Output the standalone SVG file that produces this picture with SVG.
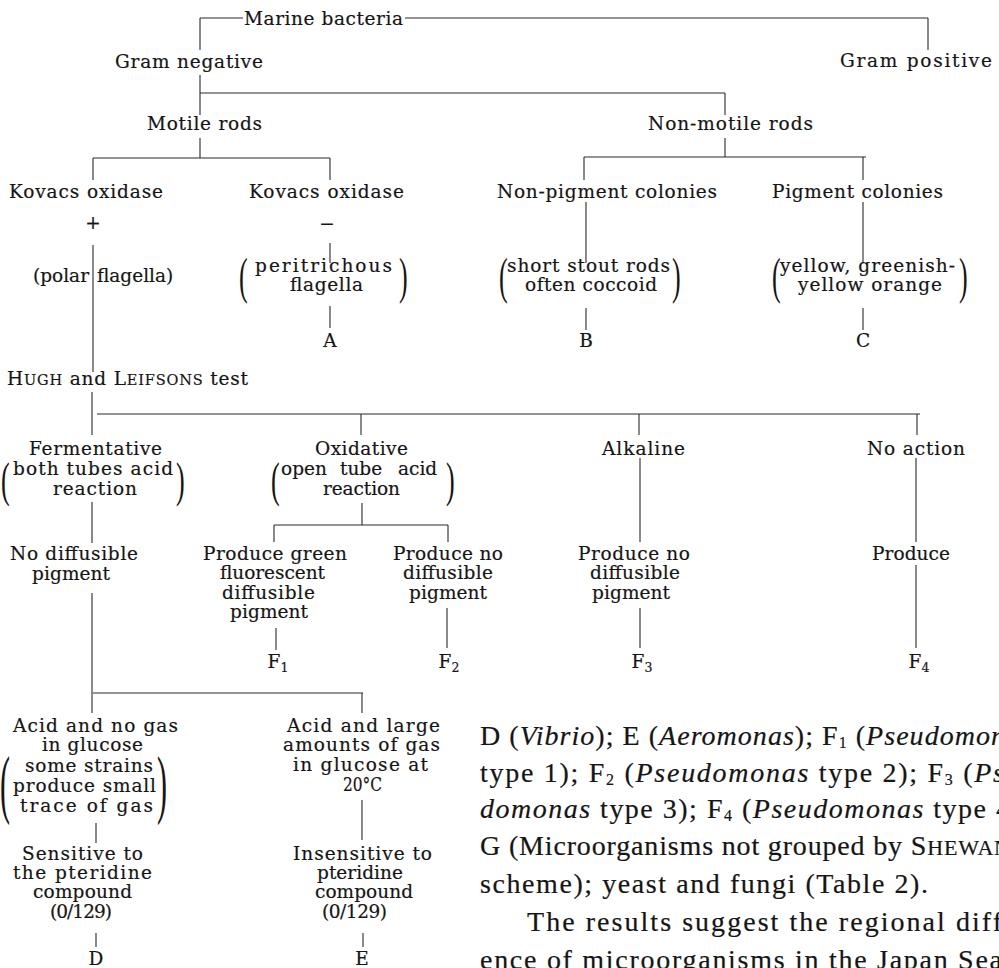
<svg xmlns="http://www.w3.org/2000/svg" width="999" height="968" viewBox="0 0 999 968">
<style>
.t{font-family:"DejaVu Serif","Liberation Serif",serif;font-size:18.5px;fill:#151515;stroke:#151515;stroke-width:0.2}
.m{text-anchor:middle}
.p{font-family:"Liberation Serif",serif;font-size:20px;fill:#151515}
.b{font-family:"Liberation Serif",serif;font-size:28px;fill:#151515;stroke:#151515;stroke-width:0.2}
.i{font-style:italic}
.c{fill:none;stroke:#2a2a2a;stroke-width:1.1}
</style>
<rect width="999" height="968" fill="#ffffff"/>
<g id="connectors" class="c">
<path d="M200 18H243M405 18H928M200 18V50M928 18V50"/>
<path d="M200 75V115M200 93H725M725 93V115"/>
<path d="M200 138V158M93 158H330M93 158V180M330 158V180"/>
<path d="M725 138V157M584 157H866M584 157V180M863 157V180"/>
<path d="M93 245V372M330 243V263M330 306V328"/>
<path d="M586 202V263M586 308V330M863 202V263M863 308V330"/>
<path d="M92 392V435M97 414H920M361 414V435M639 414V435M917 414V435"/>
<path d="M92 502V543M92 593V713M93 693H363M362 693V713"/>
<path d="M362 503V525M274 525H448M274 525V542M448 525V542"/>
<path d="M276 628V650M447 608V648M640 458V542M640 608V648M916 458V542M916 565V648"/>
<path d="M96 823V843M96 933V947M362 800V840M363 933V947"/>
</g>
<g id="marine"><text class="t" x="244" y="25" textLength="159" lengthAdjust="spacing">Marine bacteria</text></g>
<g id="gramneg"><text class="t" x="115" y="68" textLength="148" lengthAdjust="spacing">Gram negative</text></g>
<g id="grampos"><text class="t" x="840" y="67" textLength="152" lengthAdjust="spacing">Gram positive</text></g>
<g id="motile"><text class="t" x="147" y="130" textLength="115" lengthAdjust="spacing">Motile rods</text></g>
<g id="nonmotile"><text class="t" x="648" y="130" textLength="165" lengthAdjust="spacing">Non-motile rods</text></g>
<g id="kovplus"><text class="t" x="9" y="198" textLength="154" lengthAdjust="spacing">Kovacs oxidase</text><text class="t m" x="93" y="229" font-size="20">+</text></g>
<g id="kovminus"><text class="t" x="249" y="198" textLength="155" lengthAdjust="spacing">Kovacs oxidase</text><text class="t m" x="327" y="230" font-size="15">−</text></g>
<g id="nonpig"><text class="t" x="497" y="198" textLength="220" lengthAdjust="spacing">Non-pigment colonies</text></g>
<g id="pig"><text class="t" x="772" y="198" textLength="171" lengthAdjust="spacing">Pigment colonies</text></g>
<g id="polar"><text class="t" x="33" y="282"><tspan>(polar</tspan><tspan x="97">flagella)</tspan></text></g>
<g id="perit">
<text class="p" transform="translate(239,293) scale(1.3,2.58)">(</text>
<text class="t" x="255" y="272" textLength="137" lengthAdjust="spacing">peritrichous</text>
<text class="t" x="290" y="291" textLength="73" lengthAdjust="spacing">flagella</text>
<text class="p" transform="translate(399,293) scale(1.3,2.58)">)</text>
</g>
<g id="nodeA"><text class="t m" x="330" y="347">A</text></g>
<g id="short">
<text class="p" transform="translate(499,293) scale(1.3,2.58)">(</text>
<text class="t" x="507" y="272" textLength="163" lengthAdjust="spacing">short stout rods</text>
<text class="t" x="525" y="291" textLength="132" lengthAdjust="spacing">often coccoid</text>
<text class="p" transform="translate(672,293) scale(1.3,2.58)">)</text>
</g>
<g id="nodeB"><text class="t m" x="586" y="347">B</text></g>
<g id="yellow">
<text class="p" transform="translate(772,293) scale(1.3,2.58)">(</text>
<text class="t" x="780" y="272" textLength="175" lengthAdjust="spacing">yellow, greenish-</text>
<text class="t" x="798" y="291" textLength="144" lengthAdjust="spacing">yellow orange</text>
<text class="p" transform="translate(959,293) scale(1.3,2.58)">)</text>
</g>
<g id="nodeC"><text class="t m" x="863" y="347">C</text></g>
<g id="hugh"><text class="t" x="7" y="385" textLength="241" lengthAdjust="spacing">H<tspan font-size="14.5">UGH</tspan> and L<tspan font-size="14.5">EIFSONS</tspan> test</text></g>
<g id="ferm">
<text class="t" x="29" y="455" textLength="133" lengthAdjust="spacing">Fermentative</text>
<text class="p" transform="translate(1,495.5) scale(1.3,2.4)">(</text>
<text class="t" x="13" y="475" textLength="160" lengthAdjust="spacing">both tubes acid</text>
<text class="t" x="53" y="495" textLength="84" lengthAdjust="spacing">reaction</text>
<text class="p" transform="translate(176,495.5) scale(1.3,2.4)">)</text>
</g>
<g id="oxid">
<text class="t" x="315" y="455" textLength="93" lengthAdjust="spacing">Oxidative</text>
<text class="p" transform="translate(271,495.5) scale(1.3,2.4)">(</text>
<text class="t" y="475"><tspan x="281">open</tspan> <tspan x="340">tube</tspan> <tspan x="398">acid</tspan></text>
<text class="t" x="323" y="495" textLength="77" lengthAdjust="spacing">reaction</text>
<text class="p" transform="translate(446,495.5) scale(1.3,2.4)">)</text>
</g>
<g id="alk"><text class="t" x="602" y="455" textLength="83" lengthAdjust="spacing">Alkaline</text></g>
<g id="noaction"><text class="t" x="867" y="455" textLength="98" lengthAdjust="spacing">No action</text></g>
<g id="nodiff">
<text class="t" x="10" y="560" textLength="128" lengthAdjust="spacing">No diffusible</text>
<text class="t" x="32" y="580" textLength="78" lengthAdjust="spacing">pigment</text>
</g>
<g id="green">
<text class="t" x="203" y="560" textLength="144" lengthAdjust="spacing">Produce green</text>
<text class="t" x="220" y="579" textLength="105" lengthAdjust="spacing">fluorescent</text>
<text class="t" x="222" y="599" textLength="93" lengthAdjust="spacing">diffusible</text>
<text class="t" x="230" y="618" textLength="78" lengthAdjust="spacing">pigment</text>
</g>
<g id="prodno1">
<text class="t" x="393" y="560" textLength="110" lengthAdjust="spacing">Produce no</text>
<text class="t" x="403" y="579" textLength="90" lengthAdjust="spacing">diffusible</text>
<text class="t" x="409" y="599" textLength="78" lengthAdjust="spacing">pigment</text>
</g>
<g id="prodno2">
<text class="t" x="578" y="560" textLength="112" lengthAdjust="spacing">Produce no</text>
<text class="t" x="590" y="579" textLength="90" lengthAdjust="spacing">diffusible</text>
<text class="t" x="592" y="599" textLength="78" lengthAdjust="spacing">pigment</text>
</g>
<g id="produce"><text class="t" x="872" y="560" textLength="78" lengthAdjust="spacing">Produce</text></g>
<g id="F1"><text class="t m" x="278" y="668">F<tspan font-size="12.5" dy="4">1</tspan></text></g>
<g id="F2"><text class="t m" x="449" y="668">F<tspan font-size="12.5" dy="4">2</tspan></text></g>
<g id="F3"><text class="t m" x="642" y="668">F<tspan font-size="12.5" dy="4">3</tspan></text></g>
<g id="F4"><text class="t m" x="919" y="668">F<tspan font-size="12.5" dy="4">4</tspan></text></g>
<g id="acidnogas">
<text class="t" x="13" y="732" textLength="165" lengthAdjust="spacing">Acid and no gas</text>
<text class="t" x="42" y="751" textLength="101" lengthAdjust="spacing">in glucose</text>
<text class="p" transform="translate(0,808.5) scale(1.5,3.81)">(</text>
<text class="t" x="25" y="772" textLength="128" lengthAdjust="spacing">some strains</text>
<text class="t" x="13" y="792" textLength="143" lengthAdjust="spacing">produce small</text>
<text class="t" x="20" y="812" textLength="133" lengthAdjust="spacing">trace of gas</text>
<text class="p" transform="translate(157,808.5) scale(1.5,3.81)">)</text>
</g>
<g id="sensitive">
<text class="t" x="22" y="860" textLength="121" lengthAdjust="spacing">Sensitive to</text>
<text class="t" x="13" y="879" textLength="139" lengthAdjust="spacing">the pteridine</text>
<text class="t" x="33" y="898" textLength="99" lengthAdjust="spacing">compound</text>
<text class="t" x="50" y="918" textLength="62" lengthAdjust="spacing">(0/129)</text>
</g>
<g id="nodeD"><text class="t m" x="96" y="965">D</text></g>
<g id="acidlarge">
<text class="t" x="287" y="732" textLength="153" lengthAdjust="spacing">Acid and large</text>
<text class="t" x="283" y="751" textLength="157" lengthAdjust="spacing">amounts of gas</text>
<text class="t" x="293" y="771" textLength="135" lengthAdjust="spacing">in glucose at</text>
<text class="t" x="343" y="791" textLength="39" lengthAdjust="spacingAndGlyphs">20°C</text>
</g>
<g id="insensitive">
<text class="t" x="293" y="860" textLength="139" lengthAdjust="spacing">Insensitive to</text>
<text class="t" x="317" y="879" textLength="86" lengthAdjust="spacing">pteridine</text>
<text class="t" x="315" y="898" textLength="98" lengthAdjust="spacing">compound</text>
<text class="t" x="322" y="918" textLength="65" lengthAdjust="spacing">(0/129)</text>
</g>
<g id="nodeE"><text class="t m" x="362" y="965">E</text></g>
<g id="paragraph">
<text class="b" x="480" y="745" textLength="525" lengthAdjust="spacing">D (<tspan class="i">Vibrio</tspan>);  E (<tspan class="i">Aeromonas</tspan>);  F<tspan font-size="16" dy="3">1</tspan><tspan dy="-3"> (</tspan><tspan class="i">Pseudomon</tspan></text>
<text class="b" x="480" y="782" textLength="524" lengthAdjust="spacing">type 1);  F<tspan font-size="16" dy="3">2</tspan><tspan dy="-3"> (</tspan><tspan class="i">Pseudomonas</tspan> type 2);  F<tspan font-size="16" dy="3">3</tspan><tspan dy="-3"> (</tspan><tspan class="i">Ps</tspan></text>
<text class="b" x="480" y="818" textLength="530" lengthAdjust="spacing"><tspan class="i">domonas</tspan> type 3);  F<tspan font-size="16" dy="3">4</tspan><tspan dy="-3"> (</tspan><tspan class="i">Pseudomonas</tspan> type 4</text>
<text class="b" x="480" y="855" textLength="530" lengthAdjust="spacing">G (Microorganisms not grouped by S<tspan font-size="22">HEWAN</tspan></text>
<text class="b" x="480" y="893" textLength="448" lengthAdjust="spacing">scheme); yeast and fungi (Table 2).</text>
<text class="b" x="527" y="931" textLength="475" lengthAdjust="spacing">The results suggest the regional diff</text>
<text class="b" x="480" y="969" textLength="522" lengthAdjust="spacing">ence of microorganisms in the Japan Sea</text>
</g>
</svg>
